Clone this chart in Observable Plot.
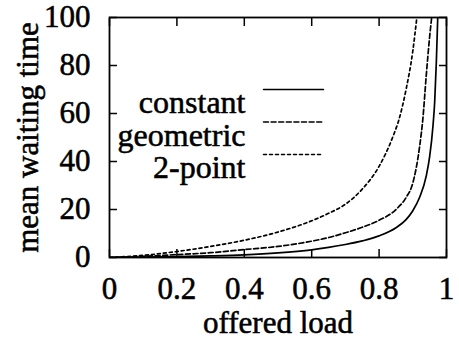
<!DOCTYPE html>
<html>
<head>
<meta charset="utf-8">
<script src="https://cdn.jsdelivr.net/npm/d3@7"></script>
<script src="https://cdn.jsdelivr.net/npm/@observablehq/plot@0.6"></script>
<style>
  html, body { margin: 0; padding: 0; background: #fff; }
  #chart svg text { stroke: #000; stroke-width: 0.55px; }
</style>
</head>
<body>
<div id="chart"></div>
<script>
// Data
const seriesNames = ["constant", "geometric", "2-point"];

const constantLoad = [0, 0.1, 0.2, 0.3, 0.4, 0.5, 0.6, 0.65, 0.7, 0.75, 0.8, 0.85, 0.88, 0.9, 0.92, 0.94, 0.95, 0.96, 0.965, 0.97, 0.974];
const constantWait = [0, 0.15, 0.35, 0.65, 1.1, 1.9, 3.2, 4.2, 5.4, 6.9, 9.0, 12.4, 15.8, 19.5, 25, 34, 42, 55, 65, 82, 100];

const geometricLoad = [0, 0.1, 0.2, 0.3, 0.4, 0.5, 0.6, 0.65, 0.7, 0.75, 0.8, 0.85, 0.88, 0.9, 0.92, 0.93, 0.94, 0.95, 0.956];
const geometricWait = [0, 0.5, 1.2, 2.0, 3.3, 4.6, 6.8, 8.3, 10.3, 12.6, 15.5, 20, 25, 31, 46, 58, 76, 92, 100];

const twoPointLoad = [0, 0.1, 0.2, 0.3, 0.4, 0.5, 0.6, 0.65, 0.7, 0.75, 0.8, 0.84, 0.86, 0.88, 0.9, 0.912];
const twoPointWait = [0, 0.9, 2.5, 4.6, 7.2, 10.6, 15.3, 18.4, 22.2, 28.5, 38, 50, 58, 70, 86, 100];

const xTicks = [0, 0.2, 0.4, 0.6, 0.8, 1];
const xTickLabels = ["0", "0.2", "0.4", "0.6", "0.8", "1"];
const yTicks = [0, 20, 40, 60, 80, 100];
const yTickLabels = ["0", "20", "40", "60", "80", "100"];

const loads = [constantLoad, geometricLoad, twoPointLoad];
const waits = [constantWait, geometricWait, twoPointWait];
const dashes = [null, "5,2.6", "3,3"];

const rows = seriesNames.flatMap((name, i) =>
  loads[i].map((x, j) => ({series: name, load: x, wait: waits[i][j]}))
);

const lineShape = {draw(ctx, l) { ctx.moveTo(0, 0); ctx.lineTo(0, -l); }};

const font = "'Liberation Serif', 'Times New Roman', serif";

const marks = [
  Plot.frame({strokeWidth: 1.8}),
  Plot.axisX({anchor: "bottom", ticks: xTicks, tickSize: -8, tickPadding: 27, strokeWidth: 1.5,
    tickFormat: (d) => xTickLabels[xTicks.indexOf(d)], label: "offered load", labelArrow: "none",
    labelAnchor: "center", labelOffset: 75}),
  Plot.axisX({anchor: "top", ticks: xTicks, tickSize: -8, strokeWidth: 1.5, tickFormat: () => "", label: null}),
  Plot.axisY({anchor: "left", ticks: yTicks, tickSize: -8, tickPadding: 27, strokeWidth: 1.5,
    tickFormat: (d) => yTickLabels[yTicks.indexOf(d)], label: "mean waiting time", labelArrow: "none",
    labelAnchor: "center", labelOffset: 94}),
  Plot.axisY({anchor: "right", ticks: yTicks, tickSize: -8, strokeWidth: 1.5, tickFormat: () => "", label: null})
];

seriesNames.forEach((name, i) => {
  marks.push(Plot.line(rows.filter(r => r.series === name), {
    x: "load", y: "wait", curve: "monotone-x", stroke: "black", strokeWidth: 1.7,
    strokeDasharray: dashes[i], clip: true
  }));
  marks.push(Plot.text([name], {
    text: d => d, frameAnchor: "top-left", textAnchor: "end", fontSize: 32,
    dx: 136, dy: 73 + i * 32.5, fill: "black"
  }));
  marks.push(Plot.vector([name], {
    frameAnchor: "top-left", dx: 154, dy: 72 + i * 32.5, length: 60, rotate: 90,
    anchor: "start", shape: lineShape, stroke: "black", strokeWidth: 1.5,
    strokeDasharray: dashes[i]
  }));
});

const chart = Plot.plot({
  width: 459,
  height: 340,
  marginLeft: 109,
  marginRight: 13,
  marginTop: 17,
  marginBottom: 83,
  style: {fontFamily: font, fontSize: "31px", background: "#fff", color: "black"},
  x: {domain: [0, 1]},
  y: {domain: [0, 100]},
  marks
});
document.getElementById("chart").appendChild(chart);
</script>
</body>
</html>
